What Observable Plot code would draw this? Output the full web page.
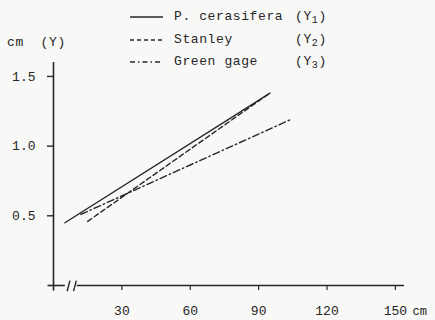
<!DOCTYPE html>
<html>
<head>
<meta charset="utf-8">
<script src="https://cdn.jsdelivr.net/npm/d3@7"></script>
<script src="https://cdn.jsdelivr.net/npm/@observablehq/plot@0.6"></script>
<style>
  html, body { margin: 0; padding: 0; background: #f8f8f6; }
  #wrap { position: relative; width: 435px; height: 320px; font-family: "Liberation Mono", monospace; color: #262626; }
  #wrap svg { position: absolute; left: 0; top: 0; }
  .leg { position: absolute; left: 130px; font-size: 13px; letter-spacing: 0.6px; white-space: nowrap; height: 18px; line-height: 18px; }
  .leg svg { position: static !important; vertical-align: middle; margin-right: 11px; }
  .leg .sym { position: absolute; left: 165px; }
  .ytitle { position: absolute; left: 7px; top: 35px; font-size: 13px; letter-spacing: 0.6px; white-space: pre; }
  sub { font-size: 10px; vertical-align: -3px; line-height: 0; }
</style>
</head>
<body>
<div id="wrap"></div>
<script>
// ---- data ----
const series = ["P. cerasifera", "Stanley", "Green gage"];
const symbols = ["1", "2", "3"];
const xStart = [5, 15, 12];
const yStart = [0.45, 0.46, 0.51];
const xEnd = [95, 94, 104];
const yEnd = [1.38, 1.37, 1.19];
const xTicks = [30, 60, 90, 120, 150];
const yTicks = [0.5, 1.0, 1.5];
const yTitle = "cm  (Y)";
const xUnit = "cm";
const breakAt = [6.6, 9.4];
const dashes = ["none", "5,3", "7,3,1.5,3"];

const rows = [];
series.forEach((s, i) => {
  rows.push({series: s, x: xStart[i], y: yStart[i]});
  rows.push({series: s, x: xEnd[i], y: yEnd[i]});
});

const ink = "#262626";
const lineMarks = series.map((s, i) =>
  Plot.line(rows.filter(r => r.series === s), {
    x: "x", y: "y", stroke: ink, strokeWidth: 1.4,
    strokeDasharray: dashes[i] === "none" ? null : dashes[i]
  })
);

const plot = Plot.plot({
  width: 435, height: 320,
  marginLeft: 53, marginRight: 31, marginTop: 62, marginBottom: 35,
  x: {domain: [0, 154]},
  y: {domain: [0, 1.6]},
  style: {background: "transparent", fontFamily: "Liberation Mono, monospace", fontSize: "13px", color: "#262626", overflow: "visible"},
  marks: [
    // y axis line
    Plot.ruleX([0], {y1: -0.04, y2: 1.6, stroke: ink, strokeWidth: 1.6}),
    // x axis line, with break
    Plot.ruleY([0], {x1: -2.4, x2: 5.2, stroke: ink, strokeWidth: 1.6}),
    Plot.ruleY([0], {x1: 10.4, x2: 154, stroke: ink, strokeWidth: 1.6}),
    Plot.link(breakAt, {x1: d => d - 0.6, x2: d => d + 0.6, y1: -0.04, y2: 0.035, stroke: ink, strokeWidth: 1.4}),
    Plot.axisY({ticks: yTicks, tickSize: 6, tickPadding: 12, tickFormat: d => d.toFixed(1), label: null, stroke: ink, strokeWidth: 1.4, fontSize: 13}),
    Plot.axisX({ticks: xTicks, tickSize: 5, tickPadding: 15, tickFormat: d => String(d), label: null, stroke: ink, strokeWidth: 1.2, fontSize: 13}),
    Plot.text([xUnit], {x: 154, y: 0, text: d => d, dx: 8, dy: 26, textAnchor: "start", fontSize: 12, fill: ink}),
    ...lineMarks
  ]
});

const wrap = document.getElementById("wrap");
wrap.appendChild(plot);

const yt = document.createElement("div");
yt.className = "ytitle";
yt.textContent = yTitle;
wrap.appendChild(yt);

const legTops = [8, 31, 53];
series.forEach((s, i) => {
  const row = document.createElement("div");
  row.className = "leg";
  row.style.top = legTops[i] + "px";
  const dash = dashes[i] === "none" ? "" : `stroke-dasharray="${dashes[i] === "5,3" ? "4,3" : "5,3,1.5,3"}"`;
  row.innerHTML = `<svg width="33" height="10"><line x1="0" y1="5" x2="33" y2="5" stroke="${ink}" stroke-width="1.4" ${dash}/></svg>${s}<span class="sym">(Y<sub>${symbols[i]}</sub>)</span>`;
  wrap.appendChild(row);
});
</script>
</body>
</html>
